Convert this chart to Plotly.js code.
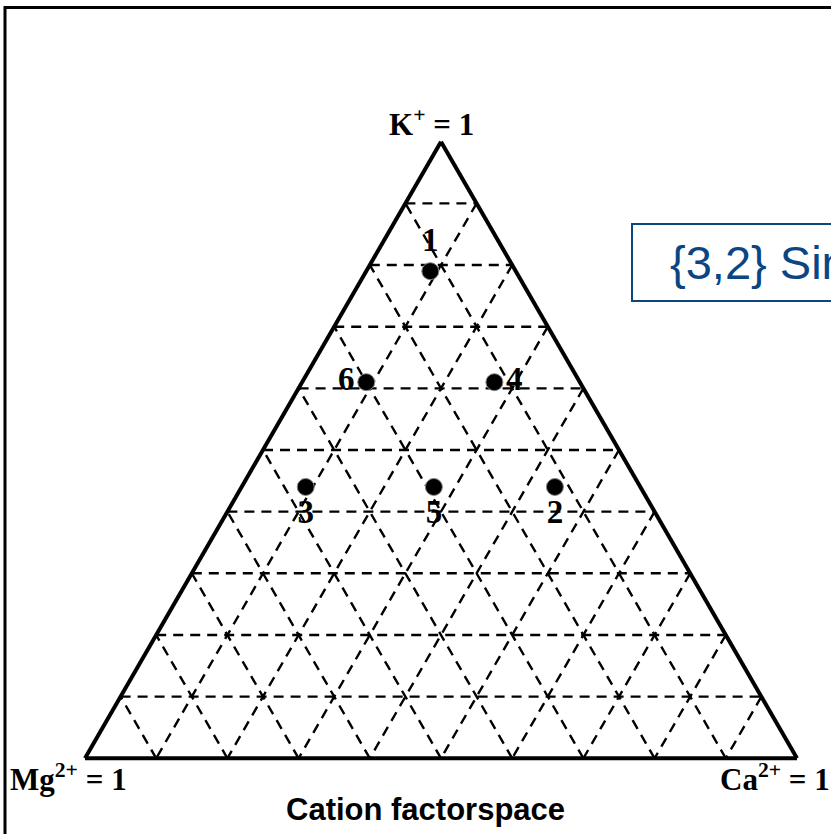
<!DOCTYPE html>
<html>
<head>
<meta charset="utf-8">
<script src="https://cdn.plot.ly/plotly-3.0.1.min.js"></script>
<style>html,body{margin:0;padding:0;background:#fff;}#chart{width:831px;height:834px;}</style>
</head>
<body>
<div id="chart"></div>
<script>
// Design point labels and compositions (fractions)
var pointLabels = ["1", "2", "3", "4", "5", "6"];
var kValues  = [0.79, 0.44, 0.44, 0.61, 0.44, 0.61];   // K+
var mgValues = [0.12, 0.12, 0.47, 0.12, 0.29, 0.30];   // Mg2+
var caValues = [0.09, 0.44, 0.09, 0.27, 0.27, 0.09];   // Ca2+
var labelPositions = ["top center", "bottom center", "bottom center", "middle right", "bottom center", "middle left"];

var W = 831, H = 834;
function px(x){ return x / W; }
function py(y){ return 1 - y / H; }

var trace = {
  type: "scatterternary",
  mode: "markers+text",
  a: kValues,
  b: mgValues,
  c: caValues,
  text: pointLabels.map(function(t){ return "<b>" + t + "</b>"; }),
  textposition: labelPositions,
  textfont: {family: "Liberation Serif", size: 33, color: "#000"},
  marker: {size: 17, color: "#000", line: {color: "#888", width: 1}},
  cliponaxis: false,
  hoverinfo: "skip",
  showlegend: false
};

var axisCommon = {
  min: 0,
  showline: true,
  linecolor: "#000",
  linewidth: 4,
  showgrid: true,
  gridcolor: "#000",
  gridwidth: 2.4,
  griddash: "10px,7px",
  dtick: 0.1,
  tick0: 0,
  ticks: "",
  showticklabels: false,
  title: {text: ""}
};

var layout = {
  width: W, height: H,
  margin: {l: 0, r: 0, t: 0, b: 0},
  paper_bgcolor: "#fff",
  showlegend: false,
  ternary: {
    sum: 1,
    domain: {x: [85/W, 797/W], y: [(H-772)/H, (H-128)/H]},
    bgcolor: "#fff",
    aaxis: Object.assign({}, axisCommon),
    baxis: Object.assign({}, axisCommon),
    caxis: Object.assign({}, axisCommon)
  },
  shapes: [
    {type: "rect", xref: "paper", yref: "paper", x0: px(5), x1: 1.2, y0: -0.2, y1: py(7.5),
     line: {color: "#000", width: 3}, fillcolor: "rgba(0,0,0,0)"},
    {type: "rect", xref: "paper", yref: "paper", x0: px(632), x1: 1.2, y0: py(301), y1: py(224),
     line: {color: "#0b4582", width: 2}, fillcolor: "rgba(0,0,0,0)"}
  ],
  annotations: [
    {xref: "paper", yref: "paper", x: px(431), y: py(123), xanchor: "center", yanchor: "middle",
     text: "<b>K<sup>+</sup> = 1</b>", showarrow: false,
     font: {family: "Liberation Serif", size: 31, color: "#000"}},
    {xref: "paper", yref: "paper", x: px(8), y: py(777), xanchor: "left", yanchor: "middle",
     text: "<b>Mg<sup>2+</sup> = 1</b>", showarrow: false,
     font: {family: "Liberation Serif", size: 31, color: "#000"}},
    {xref: "paper", yref: "paper", x: px(832), y: py(777), xanchor: "right", yanchor: "middle",
     text: "<b>Ca<sup>2+</sup> = 1</b>", showarrow: false,
     font: {family: "Liberation Serif", size: 31, color: "#000"}},
    {xref: "paper", yref: "paper", x: px(426), y: py(809), xanchor: "center", yanchor: "middle",
     text: "<b>Cation factorspace</b>", showarrow: false,
     font: {family: "Liberation Sans", size: 31, color: "#000"}},
    {xref: "paper", yref: "paper", x: px(668), y: py(262), xanchor: "left", yanchor: "middle",
     text: "{3,2} Simplex Lattice Design", showarrow: false,
     font: {family: "Liberation Sans", size: 47, color: "#0b4582"}}
  ]
};

Plotly.newPlot("chart", [trace], layout, {displayModeBar: false, staticPlot: true});
</script>
</body>
</html>
